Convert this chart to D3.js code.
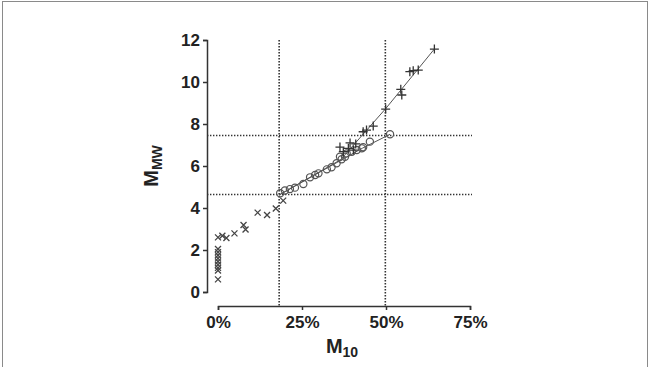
<!DOCTYPE html>
<html><head><meta charset="utf-8">
<script src="https://cdn.jsdelivr.net/npm/d3@7"></script>
<style>body{margin:0;background:#fff}svg{display:block}text{font-family:"Liberation Sans",Arial,sans-serif;font-weight:bold;fill:#222}</style>
</head><body><svg id="c" width="650" height="367"></svg>
<script>
// Data (M10 in %, MMW)
const crossX = [0,0,0,0,0,0,0,0,0,0,1.3,2.5,4.9,7.6,8.2,11.8,14.6,17.2,19.4];
const crossY = [0.6,1.02,1.15,1.3,1.45,1.6,1.75,1.9,2.05,2.6,2.68,2.57,2.79,3.19,2.98,3.78,3.67,3.98,4.35];
const circleX = [18.5,19.9,21.4,22.9,25.4,27.4,28.9,29.9,32.4,33.8,35.3,36.3,36.8,37.8,38.3,39.8,41.3,42.8,43.2,45.2,51.2];
const circleY = [4.7,4.83,4.9,4.97,5.14,5.46,5.57,5.65,5.84,5.94,6.13,6.44,6.32,6.44,6.6,6.68,6.76,6.84,6.89,7.16,7.51];
const plusX = [36.3,37.3,38.8,39.3,40.3,41,43.2,44.2,46.2,49.9,54.4,54.7,57.1,58.1,59.6,64.4];
const plusY = [6.9,6.68,6.84,7.1,6.76,7.05,7.63,7.71,7.9,8.71,9.65,9.38,10.49,10.54,10.57,11.57];
const circleLineX = [18.2,43,51.2];
const circleLineY = [4.62,6.85,7.51];
const plusLineX = [18.2,36.5,50,64.4];
const plusLineY = [4.62,6.3,8.75,11.57];
const refX = [18.2,49.8];
const refY = [7.45,4.64];
const xTicks = [0,25,50,75];
const yTicks = [0,2,4,6,8,10,12];

const svg = d3.select("#c");
svg.append("rect").attr("x",2.5).attr("y",1.5).attr("width",645).attr("height",370)
  .attr("fill","none").attr("stroke","#8a8a8a").attr("stroke-width",1);

const x = d3.scaleLinear().domain([0,75]).range([218,470]);
const y = d3.scaleLinear().domain([0,12]).range([292,40]);
const xAxisY = 306, yAxisX = 207;

// reference dotted lines
const refStyle = s => s.attr("stroke","#333").attr("stroke-width",1.6).attr("stroke-dasharray","1.4,1.6");
refX.forEach(v => svg.append("line").attr("x1",x(v)).attr("x2",x(v)).attr("y1",y(12)).attr("y2",xAxisY).call(refStyle));
refY.forEach(v => svg.append("line").attr("x1",yAxisX).attr("x2",472).attr("y1",y(v)).attr("y2",y(v)).call(refStyle));

// axes
const gy = svg.append("g").attr("transform",`translate(${yAxisX},0)`)
  .call(d3.axisLeft(y).tickValues(yTicks).tickSize(4).tickPadding(3));
const gx = svg.append("g").attr("transform",`translate(0,${xAxisY})`)
  .call(d3.axisBottom(x).tickValues(xTicks).tickFormat(d=>d+"%").tickSize(4).tickPadding(6));
[gy,gx].forEach(g=>{
  g.select(".domain").attr("stroke","#333").attr("stroke-width",1.5);
  g.selectAll(".tick line").attr("stroke","#333").attr("stroke-width",1.5);
  g.selectAll(".tick text").attr("font-size",17).attr("fill","#222").style("font-family","Liberation Sans, Arial, sans-serif").style("font-weight","bold");
});

// lines
const line = d3.line().x(d=>x(d[0])).y(d=>y(d[1]));
svg.append("path").datum(d3.zip(circleLineX,circleLineY)).attr("d",line).attr("fill","none").attr("stroke","#555").attr("stroke-width",1);
svg.append("path").datum(d3.zip(plusLineX,plusLineY)).attr("d",line).attr("fill","none").attr("stroke","#555").attr("stroke-width",1);

// markers
svg.append("g").selectAll("path").data(d3.zip(crossX,crossY)).join("path")
  .attr("d",d=>{const cx=x(d[0]),cy=y(d[1]),s=3;return `M${cx-s},${cy-s}L${cx+s},${cy+s}M${cx-s},${cy+s}L${cx+s},${cy-s}`;})
  .attr("stroke","#444").attr("stroke-width",1.3).attr("fill","none");
svg.append("g").selectAll("circle").data(d3.zip(circleX,circleY)).join("circle")
  .attr("cx",d=>x(d[0])).attr("cy",d=>y(d[1])).attr("r",3.6)
  .attr("fill","none").attr("stroke","#555").attr("stroke-width",1.2);
svg.append("g").selectAll("path").data(d3.zip(plusX,plusY)).join("path")
  .attr("d",d=>`M${x(d[0])-4.5},${y(d[1])}h9M${x(d[0])},${y(d[1])-4.5}v9`)
  .attr("stroke","#333").attr("stroke-width",1.3);

// axis titles
const yt = svg.append("text").attr("transform",`translate(158,166) rotate(-90)`).attr("text-anchor","middle").attr("font-size",20);
yt.append("tspan").text("M");
yt.append("tspan").attr("font-size",14).attr("dy",4).text("MW");
const xt = svg.append("text").attr("x",342).attr("y",353).attr("text-anchor","middle").attr("font-size",20);
xt.append("tspan").text("M");
xt.append("tspan").attr("font-size",14).attr("dy",4).text("10");
</script></body></html>
